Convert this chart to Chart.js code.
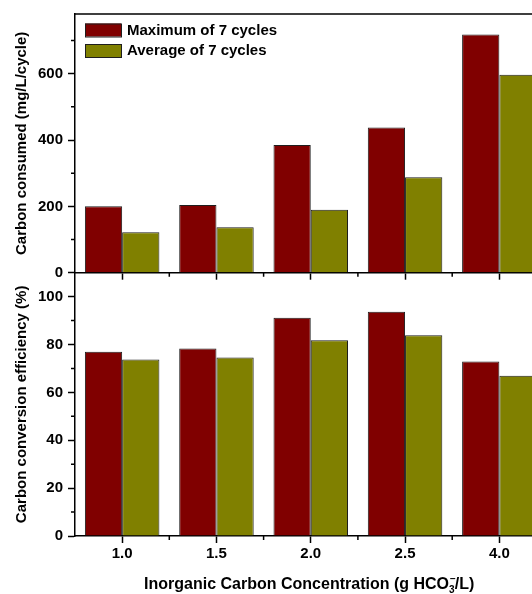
<!DOCTYPE html>
<html>
<head>
<meta charset="utf-8">
<script src="https://cdn.jsdelivr.net/npm/chart.js@4.4.0/dist/chart.umd.min.js"></script>
<style>
  html, body { margin: 0; padding: 0; background: #fff; overflow: hidden; }
  #wrap { position: relative; width: 532px; height: 594px; overflow: hidden; }
  canvas { position: absolute; left: 0; top: 0; }
</style>
</head>
<body>
<div id="wrap">
  <canvas id="consumedChart" width="560" height="594"></canvas>
  <canvas id="efficiencyChart" width="560" height="594"></canvas>
</div>
<script>
// data
const concentrations = ['1.0', '1.5', '2.0', '2.5', '4.0'];
const consumedMax = [200, 204, 385, 438, 718];
const consumedAvg = [122, 137, 190, 288, 597];
const efficiencyMax = [77.0, 78.3, 91.2, 93.7, 72.9];
const efficiencyAvg = [73.7, 74.6, 81.8, 83.9, 67.0];
const seriesLabels = ['Maximum of 7 cycles', 'Average of 7 cycles'];
const seriesColors = ['#800000', '#808000'];

const FONT = '"Liberation Sans", Arial, Helvetica, sans-serif';
Chart.defaults.font.family = FONT;
Chart.defaults.color = '#000';

// plot frame (pixels)
const PLOT_LEFT = 75;
const RIGHT_PAD = 13.5;
const TOP_Y = 11;
const MID_Y = 272.7;
const BOTTOM_Y = 536;
const H = 594;

const makeDatasets = (maxVals, avgVals) => [maxVals, avgVals].map((vals, i) => ({
  label: seriesLabels[i],
  data: vals,
  backgroundColor: seriesColors[i],
  borderColor: '#1e1e1e',
  borderWidth: 1,
  barPercentage: 1.0,
  categoryPercentage: 0.79,
}));

const tickGrid = {
  display: true,
  drawOnChartArea: false,
  drawTicks: true,
  tickLength: 7,
  tickColor: '#000',
  tickWidth: 1.5,
  offset: false,
};
const axisBorder = { display: true, color: '#000', width: 1.5 };
const tickFont = { size: 15, weight: 'bold' };

// major ticks every `step` from 0, without a tick at the (odd) top bound
const stepTicks = (step) => (scale) => {
  const ticks = [];
  for (let v = 0; v < scale.max; v += step) ticks.push({ value: v });
  scale.ticks = ticks;
};

// minor ticks + top frame line
const minorTicks = {
  id: 'minorTicks',
  afterDraw(chart, args, opts) {
    const { ctx, chartArea } = chart;
    const xs = chart.scales.x;
    const ys = chart.scales.y;
    ctx.save();
    ctx.strokeStyle = '#000';
    ctx.lineWidth = 1.5;
    ctx.beginPath();
    for (let i = 0; i < xs.ticks.length; i++) {
      const px = xs.getPixelForValue(i + 0.5);
      ctx.moveTo(px, chartArea.bottom);
      ctx.lineTo(px, chartArea.bottom + 4);
    }
    for (let v = opts.yStep / 2; v < ys.max; v += opts.yStep) {
      const py = ys.getPixelForValue(v);
      ctx.moveTo(chartArea.left, py);
      ctx.lineTo(chartArea.left - 4, py);
    }
    if (opts.frameTop) {
      ctx.moveTo(chartArea.left, chartArea.top);
      ctx.lineTo(chartArea.right, chartArea.top);
    }
    ctx.stroke();
    ctx.restore();
  }
};

// legend inside the upper plot
const innerLegend = {
  id: 'innerLegend',
  afterDraw(chart) {
    const { ctx, chartArea } = chart;
    ctx.save();
    ctx.font = 'bold 15px ' + FONT;
    ctx.textBaseline = 'middle';
    chart.data.datasets.forEach((ds, i) => {
      const x = chartArea.left + 10;
      const y = chartArea.top + 9.5 + i * 20.5;
      ctx.fillStyle = ds.backgroundColor;
      ctx.fillRect(x, y, 36, 13);
      ctx.strokeStyle = '#1e1e1e';
      ctx.lineWidth = 1;
      ctx.strokeRect(x + 0.5, y + 0.5, 36, 13);
      ctx.fillStyle = '#000';
      ctx.fillText(ds.label, x + 42, y + 7);
    });
    ctx.restore();
  }
};

// x title with HCO3- sub/superscript
const xTitle = {
  id: 'xTitle',
  afterDraw(chart, args, opts) {
    const { ctx } = chart;
    const xs = chart.scales.x;
    const cx = (xs.left + xs.right) / 2 - 1.5;
    const y = opts.y;
    const big = 'bold 16px ' + FONT;
    const small = 'bold 10px ' + FONT;
    ctx.save();
    ctx.fillStyle = '#000';
    ctx.textBaseline = 'middle';
    ctx.textAlign = 'left';
    ctx.font = big;
    const w1 = ctx.measureText(opts.before).width;
    const w3 = ctx.measureText(opts.after).width;
    ctx.font = small;
    const w2 = Math.max(ctx.measureText(opts.sub).width, ctx.measureText(opts.sup).width);
    let x = cx - (w1 + w2 + w3) / 2;
    ctx.font = big;
    ctx.fillText(opts.before, x, y);
    x += w1;
    ctx.font = small;
    ctx.fillText(opts.sub, x, y + 5);
    ctx.fillText(opts.sup, x + 1, y - 6);
    x += w2;
    ctx.font = big;
    ctx.fillText(opts.after, x, y);
    ctx.restore();
  }
};

const consumedChart = new Chart(document.getElementById('consumedChart'), {
  type: 'bar',
  data: {
    labels: concentrations,
    datasets: makeDatasets(consumedMax, consumedAvg),
  },
  options: {
    responsive: false,
    animation: false,
    events: [],
    layout: { padding: { left: 0, top: TOP_Y, right: RIGHT_PAD, bottom: H - MID_Y - 8 } },
    plugins: {
      legend: { display: false },
      tooltip: { enabled: false },
      minorTicks: { yStep: 200, frameTop: true },
    },
    scales: {
      x: {
        ticks: { display: false },
        grid: tickGrid,
        border: axisBorder,
        afterFit: (s) => { s.height = 8; },
      },
      y: {
        min: 0,
        max: 780,
        afterBuildTicks: stepTicks(200),
        ticks: { font: tickFont, padding: 5, color: '#000' },
        grid: tickGrid,
        border: axisBorder,
        title: {
          display: true,
          text: 'Carbon consumed (mg/L/cycle)',
          font: { size: 15, weight: 'bold' },
          padding: { top: 13, bottom: 0 },
          color: '#000',
        },
        afterFit: (s) => { s.width = PLOT_LEFT; },
      },
    },
  },
  plugins: [minorTicks, innerLegend],
});

const efficiencyChart = new Chart(document.getElementById('efficiencyChart'), {
  type: 'bar',
  data: {
    labels: concentrations,
    datasets: makeDatasets(efficiencyMax, efficiencyAvg),
  },
  options: {
    responsive: false,
    animation: false,
    events: [],
    layout: { padding: { left: 0, top: MID_Y, right: RIGHT_PAD, bottom: 0 } },
    plugins: {
      legend: { display: false },
      tooltip: { enabled: false },
      minorTicks: { yStep: 20, frameTop: false },
      xTitle: { y: 585, before: 'Inorganic Carbon Concentration (g HCO', sub: '3', sup: '\u2212', after: '/L)' },
    },
    scales: {
      x: {
        ticks: { font: tickFont, padding: 2, color: '#000', maxRotation: 0 },
        grid: tickGrid,
        border: axisBorder,
        afterFit: (s) => { s.height = H - BOTTOM_Y; },
      },
      y: {
        min: 0,
        max: 110,
        afterBuildTicks: stepTicks(20),
        ticks: { font: tickFont, padding: 5, color: '#000' },
        grid: tickGrid,
        border: axisBorder,
        title: {
          display: true,
          text: 'Carbon conversion efficiency (%)',
          font: { size: 15, weight: 'bold' },
          padding: { top: 13, bottom: 0 },
          color: '#000',
        },
        afterFit: (s) => { s.width = PLOT_LEFT; },
      },
    },
  },
  plugins: [minorTicks, xTitle],
});
</script>
</body>
</html>
